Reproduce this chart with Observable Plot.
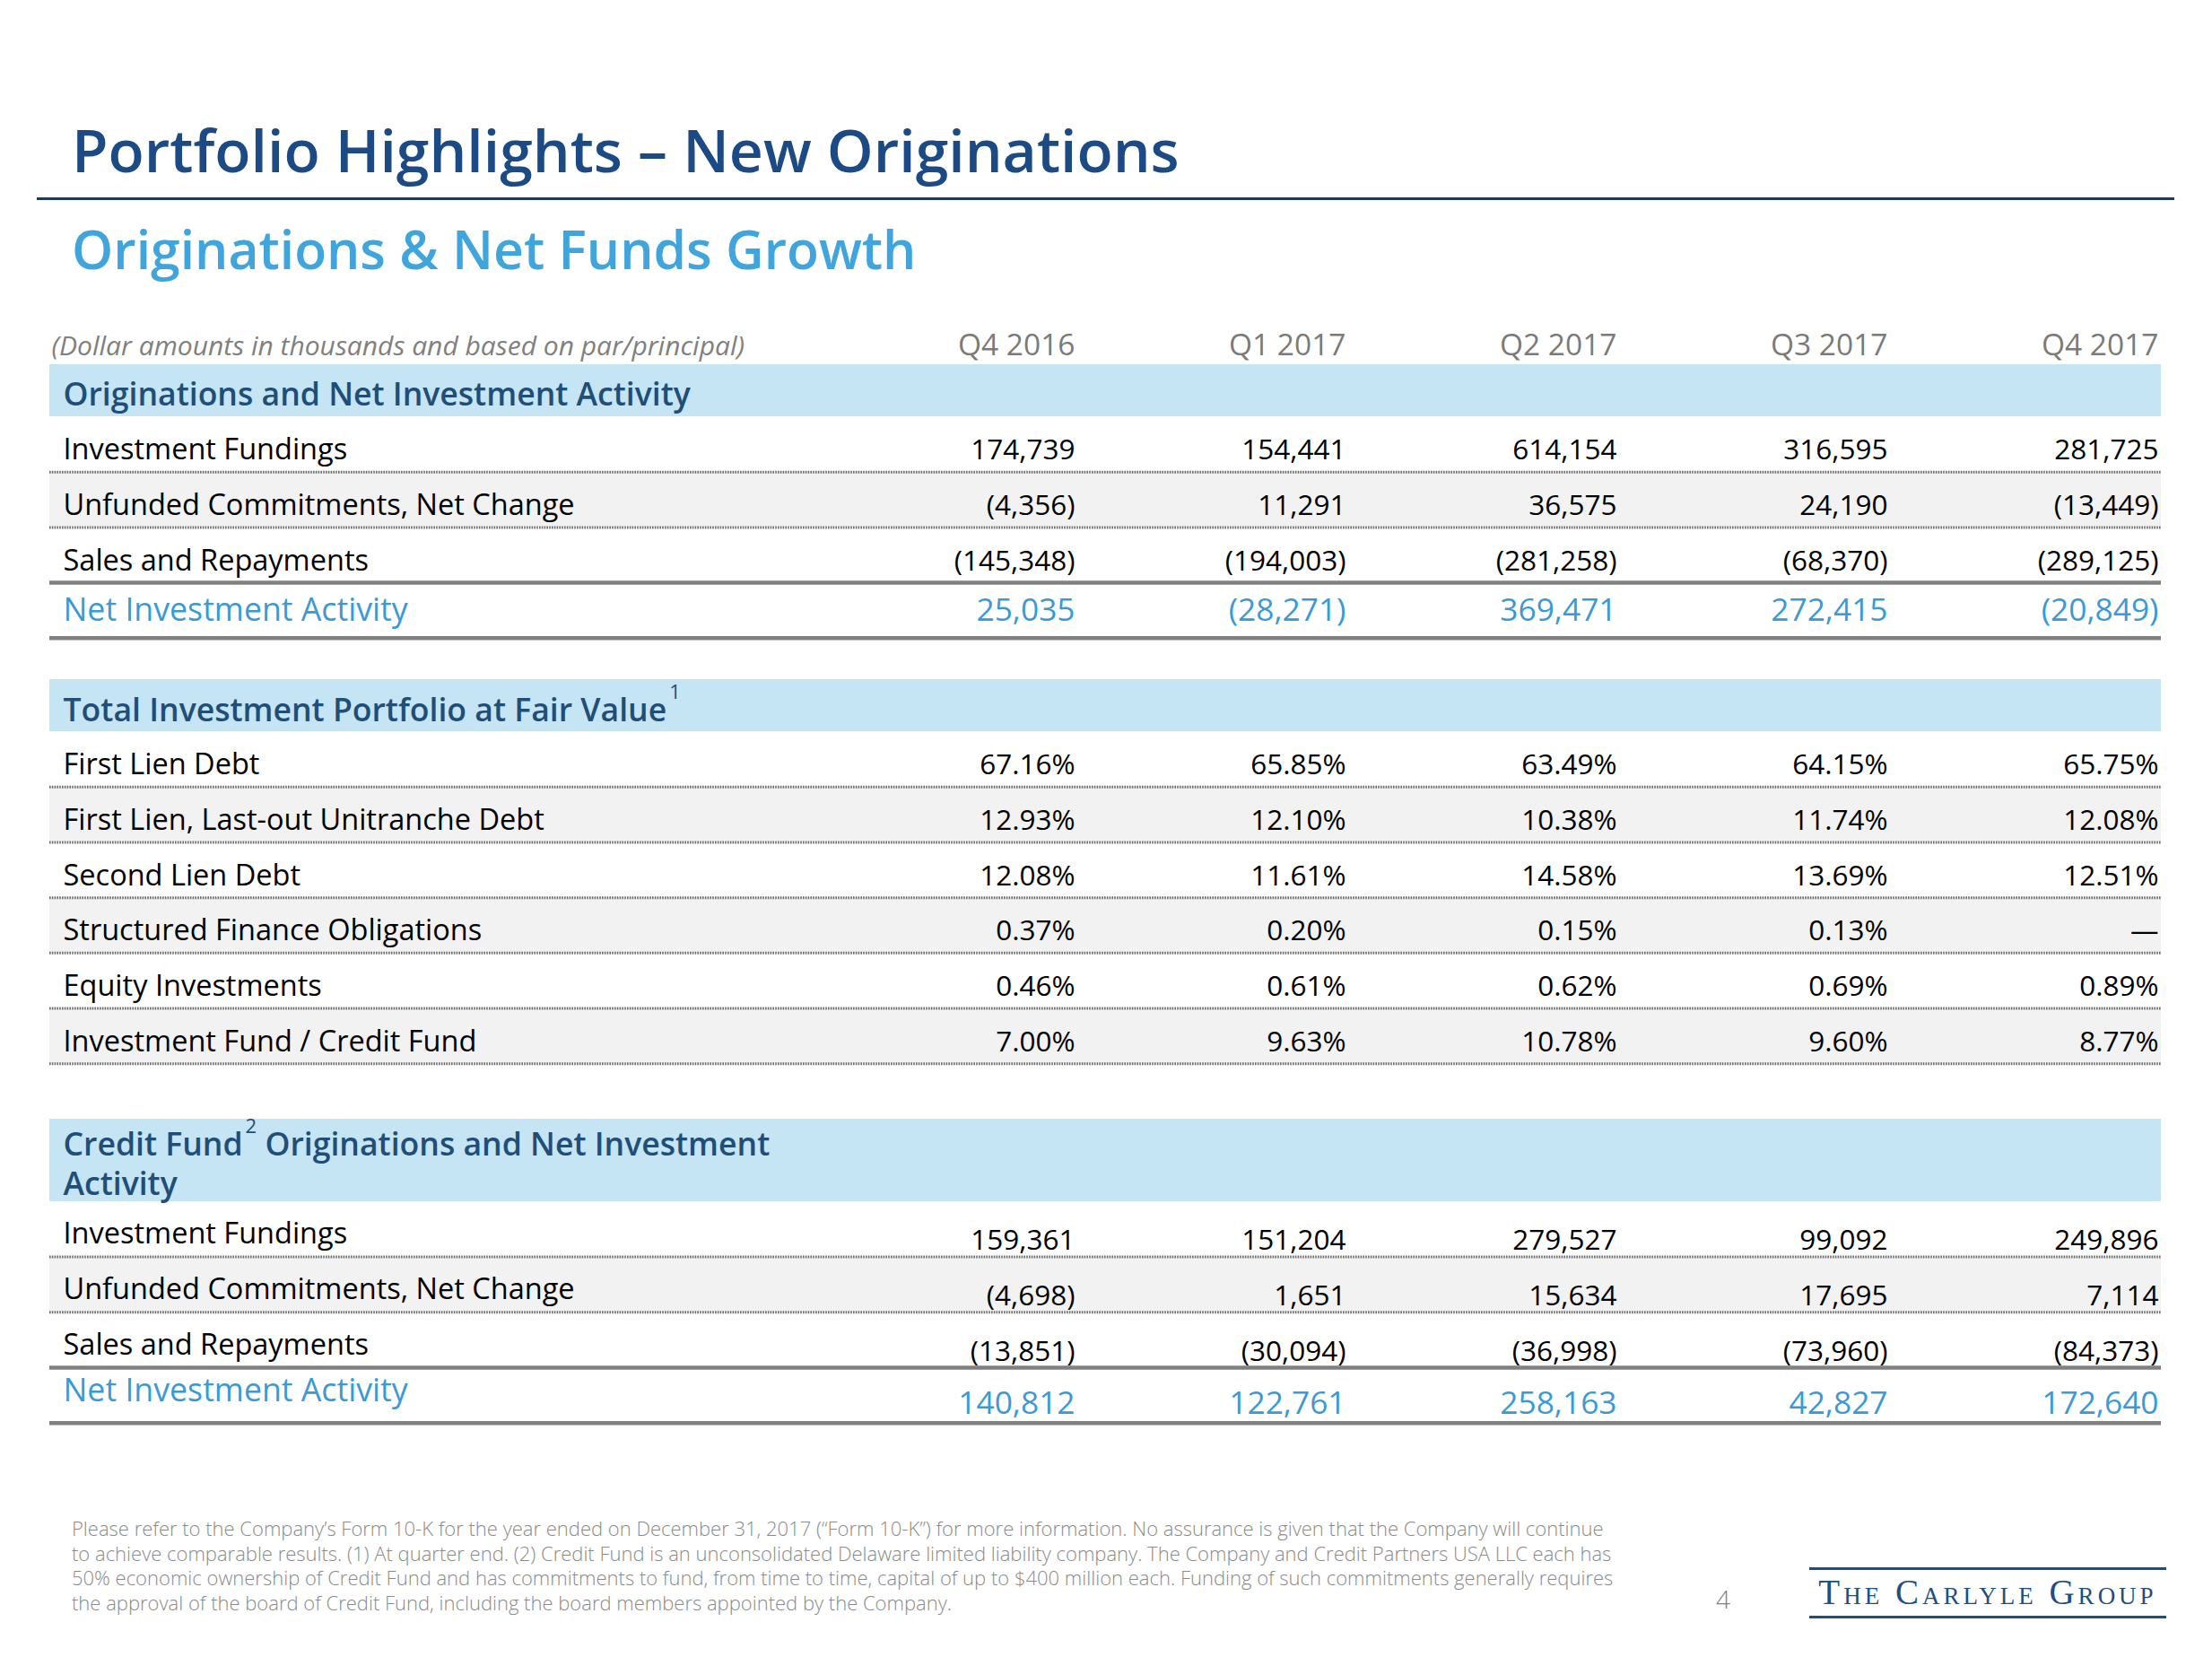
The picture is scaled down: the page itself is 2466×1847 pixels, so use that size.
<!DOCTYPE html>
<html>
<head>
<meta charset="utf-8">
<script src="https://cdn.jsdelivr.net/npm/d3@7"></script>
<script src="https://cdn.jsdelivr.net/npm/@observablehq/plot@0.6"></script>
<style>
  body { margin: 0; background: #fff; }
  #page { position: relative; width: 2466px; height: 1847px; overflow: hidden; font-family: "Open Sans", sans-serif; }
  #chart { position: absolute; left: 0; top: 0; }
  .abs { position: absolute; white-space: nowrap; line-height: 1; }
  #title { left: 80px; top: 133px; font-size: 66px; font-weight: 600; color: #1B4A84; }
  #rule { position: absolute; left: 41px; top: 220px; width: 2383px; height: 3px; background: #1F3A5A; }
  #subtitle { left: 80px; top: 248px; font-size: 58.8px; font-weight: 600; color: #41A5DD; }
  #footer { left: 80px; top: 1690px; font-size: 22px; line-height: 27.6px; color: #8a8a8a; font-weight: 300; }
  #pagenum { left: 1913px; top: 1768px; font-size: 28px; color: #7f7f7f; font-weight: 300; }
  #logo { position: absolute; left: 2017px; top: 1747px; width: 398px; height: 57px; border-top: 3px solid #1F4E82; border-bottom: 3px solid #1F4E82; box-sizing: border-box; }
  #logotext { position: absolute; left: 0; width: 398px; top: 5px; text-align: center; font-family: "Liberation Serif", serif; font-variant: small-caps; font-size: 39px; letter-spacing: 4px; color: #1F4E82; line-height: 1; }
</style>
</head>
<body>
<div id="page">
  <div id="chart"></div>
  <div id="title" class="abs"></div>
  <div id="rule"></div>
  <div id="subtitle" class="abs"></div>
  <div id="footer" class="abs"></div>
  <div id="pagenum" class="abs"></div>
  <div id="logo"><div id="logotext"></div></div>
</div>
<script>
// ---------- text ----------
const titleText = "Portfolio Highlights \u2013 New Originations";
const subtitleText = "Originations & Net Funds Growth";
const noteText = "(Dollar amounts in thousands and based on par/principal)";
const footerLines = [
  "Please refer to the Company\u2019s Form 10-K for the year ended on December 31, 2017 (\u201cForm 10-K\u201d) for more information. No assurance is given that the Company will continue",
  "to achieve comparable results. (1) At quarter end. (2) Credit Fund is an unconsolidated Delaware limited liability company. The Company and Credit Partners USA LLC each has",
  "50% economic ownership of Credit Fund and has commitments to fund, from time to time, capital of up to $400 million each. Funding of such commitments generally requires",
  "the approval of the board of Credit Fund, including the board members appointed by the Company."
];
const pageNumber = "4";
const logoText = "The Carlyle Group";

// ---------- data ----------
const quarters = ["Q4 2016", "Q1 2017", "Q2 2017", "Q3 2017", "Q4 2017"];

const sec1Title = "Originations and Net Investment Activity";
const sec1Labels = ["Investment Fundings", "Unfunded Commitments, Net Change", "Sales and Repayments", "Net Investment Activity"];
const investmentFundings = [174739, 154441, 614154, 316595, 281725];
const unfundedCommitments = [-4356, 11291, 36575, 24190, -13449];
const salesRepayments = [-145348, -194003, -281258, -68370, -289125];
const netInvestmentActivity = [25035, -28271, 369471, 272415, -20849];

const sec2Title = "Total Investment Portfolio at Fair Value\u00b9";
const sec2Labels = ["First Lien Debt", "First Lien, Last-out Unitranche Debt", "Second Lien Debt", "Structured Finance Obligations", "Equity Investments", "Investment Fund / Credit Fund"];
const firstLienDebt = [67.16, 65.85, 63.49, 64.15, 65.75];
const lastOutUnitranche = [12.93, 12.10, 10.38, 11.74, 12.08];
const secondLienDebt = [12.08, 11.61, 14.58, 13.69, 12.51];
const structuredFinance = [0.37, 0.20, 0.15, 0.13, null];
const equityInvestments = [0.46, 0.61, 0.62, 0.69, 0.89];
const creditFundShare = [7.00, 9.63, 10.78, 9.60, 8.77];

const sec3Title = "Credit Fund\u00b2 Originations and Net Investment\nActivity";
const sec3Labels = ["Investment Fundings", "Unfunded Commitments, Net Change", "Sales and Repayments", "Net Investment Activity"];
const cfInvestmentFundings = [159361, 151204, 279527, 99092, 249896];
const cfUnfundedCommitments = [-4698, 1651, 15634, 17695, 7114];
const cfSalesRepayments = [-13851, -30094, -36998, -73960, -84373];
const cfNetInvestmentActivity = [140812, 122761, 258163, 42827, 172640];

// ---------- formatting ----------
const fmtNum = v => { const s = d3.format(",")(Math.abs(v)); return v < 0 ? `(${s})` : s; };
const fmtPct = v => v == null ? "\u2014" : v.toFixed(2) + "%";

// ---------- layout (row units) ----------
const UNIT = 61.7;
const sections = [
  {title: sec1Title, labels: sec1Labels, series: [investmentFundings, unfundedCommitments, salesRepayments, netInvestmentActivity], fmt: fmtNum, hasNet: true, gap: 0, band: 0.94, titleDy: -12, labelDy: -14, valueDy: -14, netLabelDy: -19, netValueDy: -19},
  {title: sec2Title, labels: sec2Labels, series: [firstLienDebt, lastOutUnitranche, secondLienDebt, structuredFinance, equityInvestments, creditFundShare], fmt: fmtPct, hasNet: false, gap: 0.75, band: 0.94, titleDy: -12, labelDy: -14, valueDy: -14},
  {title: sec3Title, labels: sec3Labels, series: [cfInvestmentFundings, cfUnfundedCommitments, cfSalesRepayments, cfNetInvestmentActivity], fmt: fmtNum, hasNet: true, gap: 1.0, band: 1.49, titleDy: -7, labelDy: -15, valueDy: -8, netLabelDy: -24, netValueDy: -10}
];

const bands = [], rows = [], cells = [], dotted = [], thick = [];
let cursor = 0;
sections.forEach((s, si) => {
  cursor += s.gap;
  bands.push({y1: cursor, y2: cursor + s.band, title: s.title, ty: cursor + s.band + s.titleDy / UNIT});
  cursor += s.band;
  s.labels.forEach((label, i) => {
    const top = cursor, bottom = cursor + 1;
    const isNet = s.hasNet && i === s.labels.length - 1;
    const lDy = isNet ? s.netLabelDy : s.labelDy;
    const vDy = isNet ? s.netValueDy : s.valueDy;
    rows.push({label, top, bottom, isNet, gray: i % 2 === 1 && !isNet, ly: bottom + lDy / UNIT});
    s.series[i].forEach((v, qi) => cells.push({q: quarters[qi], text: s.fmt(v), isNet, vy: bottom + vDy / UNIT}));
    const nextIsNet = s.hasNet && i === s.labels.length - 2;
    if (isNet || nextIsNet) thick.push({y: bottom}); else dotted.push({y: bottom});
    cursor += 1;
  });
});
const totalUnits = cursor;
const top0 = 406;

const W = 2466, H = 1847;
const navy = "#1F4E79", blue = "#3B9AD5";

const chart = Plot.plot({
  width: W, height: H,
  marginLeft: 55, marginRight: 57, marginTop: top0, marginBottom: H - (top0 + totalUnits * UNIT),
  style: {fontFamily: "Open Sans", background: "transparent", color: "#000"},
  x: {type: "point", domain: quarters, range: [1197, 2406], padding: 0, axis: null},
  y: {type: "linear", domain: [0, totalUnits], range: [top0, top0 + totalUnits * UNIT], axis: null},
  marks: [
    Plot.rect(bands, {y1: "y1", y2: "y2", fill: "#C5E5F4"}),
    Plot.rect(rows.filter(d => d.gray), {y1: "top", y2: "bottom", fill: "#F2F2F2"}),
    Plot.ruleY(dotted, {y: "y", stroke: "#6e6e6e", strokeWidth: 3, strokeDasharray: "1.6,1.2"}),
    Plot.ruleY(thick, {y: "y", stroke: "#808080", strokeWidth: 4.5}),
    Plot.axisX({anchor: "top", tickSize: 0, tickPadding: 11, textAnchor: "end", fontSize: 33.5, color: "#7a7a7a", label: null}),
    Plot.text([noteText], {frameAnchor: "top-left", text: d => d, dx: 2, dy: -11, lineAnchor: "bottom", fontStyle: "italic", fontSize: 30, fill: "#808080"}),
    Plot.text(bands, {y: "ty", text: "title", frameAnchor: "left", dx: 15, lineAnchor: "bottom", fontSize: 35.6, fontWeight: 600, fill: navy, lineHeight: 1.24}),
    Plot.text(rows, {y: "ly", text: "label", frameAnchor: "left", dx: 15, lineAnchor: "bottom", fontSize: d => d.isNet ? 35.7 : 32.5, fill: d => d.isNet ? blue : "#000"}),
    Plot.text(cells, {x: "q", y: "vy", text: "text", textAnchor: "end", lineAnchor: "bottom", fontSize: d => d.isNet ? 35.3 : 31.5, fill: d => d.isNet ? blue : "#000"})
  ]
});

// footnote markers as raised superscripts
const svgNS = "http://www.w3.org/2000/svg";
const supMap = {"\u00b9": "1", "\u00b2": "2"};
chart.querySelectorAll("text, tspan").forEach(el => {
  Array.from(el.childNodes).forEach(node => {
    if (node.nodeType !== 3) return;
    const m = node.nodeValue.match(/^(.*?)([\u00b9\u00b2])(.*)$/s);
    if (!m) return;
    const frag = document.createDocumentFragment();
    frag.appendChild(document.createTextNode(m[1]));
    const sup = document.createElementNS(svgNS, "tspan");
    sup.setAttribute("font-size", "22");
    sup.setAttribute("font-weight", "400");
    sup.setAttribute("dx", "3");
    sup.setAttribute("dy", "-25");
    sup.textContent = supMap[m[2]];
    frag.appendChild(sup);
    if (m[3].length) {
      const after = document.createElementNS(svgNS, "tspan");
      after.setAttribute("dy", "25");
      after.textContent = m[3];
      frag.appendChild(after);
    }
    el.replaceChild(frag, node);
  });
});

document.getElementById("chart").appendChild(chart);

document.getElementById("title").textContent = titleText;
document.getElementById("subtitle").textContent = subtitleText;
document.getElementById("footer").innerHTML = footerLines.map(l => l.replace(/&/g, "&amp;")).join("<br>");
document.getElementById("pagenum").textContent = pageNumber;
document.getElementById("logotext").textContent = logoText;
</script>
</body>
</html>
